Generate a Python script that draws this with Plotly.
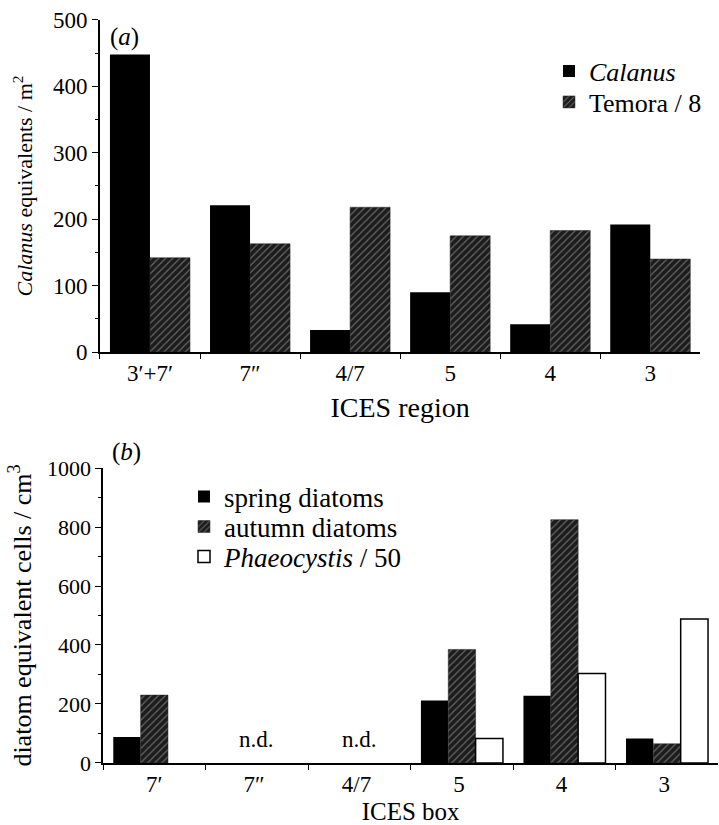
import plotly.graph_objects as go

regions = ["3′+7′", "7″", "4/7", "5", "4", "3"]
calanus = [448, 221, 33, 90, 42, 192]
temora_8 = [142, 163, 218, 175, 183, 140]

boxes = ["7′", "7″ ", "4/7 ", "5 ", "4 ", "3 "]
spring = [88, None, None, 212, 228, 83]
autumn = [230, None, None, 385, 825, 65]
phaeo_50 = [None, None, None, 83, 303, 488]
nd_boxes = ["7″ ", "4/7 "]

FONT = "Liberation Serif, DejaVu Serif, Times New Roman, serif"
hatch = dict(shape="/", fgcolor="#b0b0b0", bgcolor="#1c1c1c", size=5, solidity=0.25)

fig = go.Figure()
fig.add_trace(go.Bar(x=regions, y=calanus, name="<i>Calanus</i>", marker=dict(color="black", line=dict(width=0)),
                     xaxis="x", yaxis="y", legend="legend", offsetgroup="a1"))
fig.add_trace(go.Bar(x=regions, y=temora_8, name="Temora / 8",
                     marker=dict(color="#1c1c1c", pattern=hatch, line=dict(color="#222", width=0.5)),
                     xaxis="x", yaxis="y", legend="legend2", offsetgroup="a2"))

fig.add_trace(go.Bar(x=boxes, y=spring, name="spring diatoms", marker=dict(color="black", line=dict(width=0)),
                     xaxis="x2", yaxis="y2", legend="legend3", offsetgroup="b1"))
fig.add_trace(go.Bar(x=boxes, y=autumn, name="autumn diatoms",
                     marker=dict(color="#1c1c1c", pattern=hatch, line=dict(color="#222", width=0.5)),
                     xaxis="x2", yaxis="y2", legend="legend4", offsetgroup="b2"))
fig.add_trace(go.Bar(x=boxes, y=phaeo_50, name="<i>Phaeocystis</i> / 50",
                     marker=dict(color="white", line=dict(color="black", width=1.5)),
                     xaxis="x2", yaxis="y2", legend="legend5", offsetgroup="b3"))

axis_common = dict(showline=True, linecolor="black", linewidth=1.5, showgrid=False, zeroline=False,
                   automargin=False, ticks="outside", tickcolor="black")


def leg(xpx, ypx, size):
    return dict(x=xpx / 719, y=1 - ypx / 825, xanchor="left", yanchor="middle", bgcolor="rgba(0,0,0,0)",
                font=dict(family=FONT, size=size), tracegroupgap=0, itemwidth=30)


fig.update_layout(
    width=719, height=825,
    margin=dict(l=0, r=0, t=0, b=0, autoexpand=False),
    paper_bgcolor="white", plot_bgcolor="white",
    barmode="group", bargap=0.2, bargroupgap=0,
    font=dict(family=FONT, size=23, color="black"),
    xaxis=dict(domain=[0.139, 0.974], anchor="y", tickson="boundaries", ticklen=5,
               tickfont=dict(family=FONT, size=23, color="black"),
               title=dict(text="ICES region", font=dict(family=FONT, size=28), standoff=12), **axis_common),
    yaxis=dict(domain=[0.5733, 0.9758], anchor="x", range=[0, 500], dtick=100, ticklen=6,
               tickfont=dict(family=FONT, size=23, color="black"),
               minor=dict(dtick=50, ticklen=3, ticks="outside", tickcolor="black"),
               title=dict(text="<i>Calanus</i> equivalents / m<sup>2</sup>", font=dict(family=FONT, size=22), standoff=14),
               **axis_common),
    xaxis2=dict(domain=[0.1433, 0.999], anchor="y2", tickson="boundaries", ticklen=5,
                tickfont=dict(family=FONT, size=23, color="black"),
                title=dict(text="ICES box", font=dict(family=FONT, size=25), standoff=6), **axis_common),
    yaxis2=dict(domain=[0.0752, 0.4327], anchor="x2", range=[0, 1000], dtick=200, ticklen=6,
                tickfont=dict(family=FONT, size=22, color="black"),
                minor=dict(dtick=100, ticklen=3, ticks="outside", tickcolor="black"),
                title=dict(text="diatom equivalent cells / cm<sup>3</sup>", font=dict(family=FONT, size=26), standoff=8),
                **axis_common),
    legend=leg(549, 71, 26),
    legend2=leg(549, 102, 26),
    legend3=leg(184, 497, 27),
    legend4=leg(184, 527, 27),
    legend5=leg(184, 557, 27),
    showlegend=True,
)

fig.add_annotation(text="(<i>a</i>)", xref="paper", yref="paper", x=124 / 719, y=1 - 37 / 825,
                   xanchor="center", yanchor="middle", showarrow=False, font=dict(family=FONT, size=25))
fig.add_annotation(text="(<i>b</i>)", xref="paper", yref="paper", x=126 / 719, y=1 - 452 / 825,
                   xanchor="center", yanchor="middle", showarrow=False, font=dict(family=FONT, size=25))
for b in nd_boxes:
    fig.add_annotation(text="n.d.", xref="x2", yref="y2", x=b, y=80, showarrow=False,
                       font=dict(family=FONT, size=23))

fig.write_html("out.html", config={"displayModeBar": False},
               post_script="document.body.style.margin='0';document.body.style.padding='0';")
